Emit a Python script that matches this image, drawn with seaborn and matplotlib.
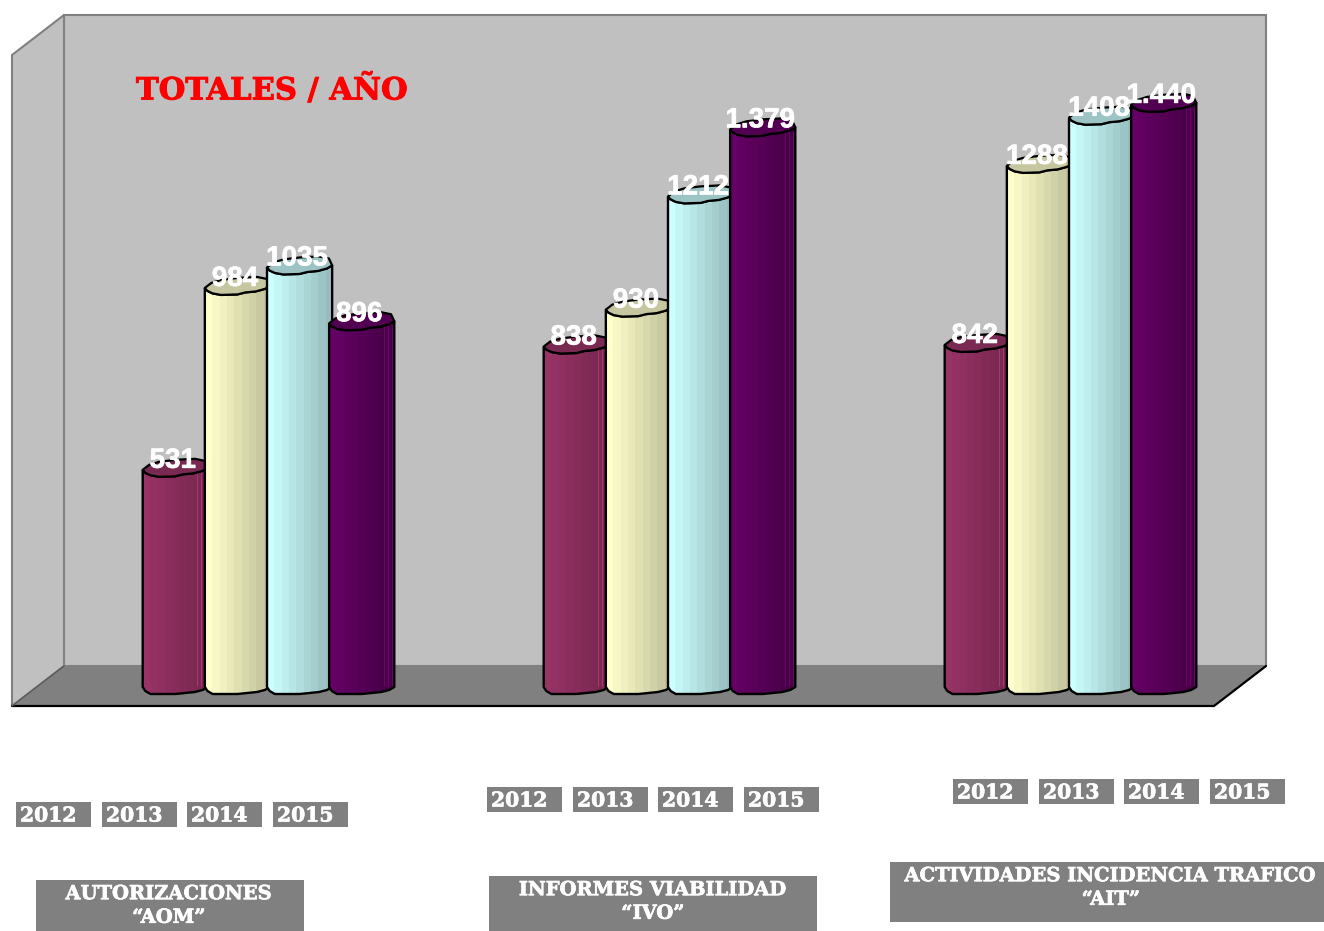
import numpy as np
import pandas as pd
import matplotlib
matplotlib.use("Agg")
import matplotlib.pyplot as plt
import matplotlib.patheffects as pe
from matplotlib.patches import Polygon, PathPatch, Rectangle
from matplotlib.path import Path
import seaborn as sns

# ---- data ----
groups = ["AOM", "IVO", "AIT"]
years = ["2012", "2013", "2014", "2015"]
values_2012 = [531, 838, 842]
values_2013 = [984, 930, 1288]
values_2014 = [1035, 1212, 1408]
values_2015 = [896, 1379, 1440]
labels_2012 = ["531", "838", "842"]
labels_2013 = ["984", "930", "1288"]
labels_2014 = ["1035", "1212", "1408"]
labels_2015 = ["896", "1.379", "1.440"]
group_titles = ["AUTORIZACIONES\n\u201cAOM\u201d",
                "INFORMES VIABILIDAD\n\u201cIVO\u201d",
                "ACTIVIDADES INCIDENCIA TRAFICO\n\u201cAIT\u201d"]
chart_title = "TOTALES / A\u00d1O"

# ---- styles ----
palette = {"2012": "#993366", "2013": "#FFFFCC", "2014": "#CCFFFF", "2015": "#660066"}
end_factor = {"2012": 0.78, "2013": 0.76, "2014": 0.74, "2015": 0.68}
top_colour = {"2012": "#7A2A52", "2013": "#C6C6A0", "2014": "#9CC4C4", "2015": "#520052"}
has_stripes = {"2012": True, "2013": False, "2014": False, "2015": True}
SERIF = "DejaVu Serif"
GREY = "#808080"
heavy_white = [pe.withStroke(linewidth=0.5, foreground="white")]
heavy_red = [pe.withStroke(linewidth=0.7, foreground="#FF0000")]

W, H = 1324, 931
sns.set_theme(style="white")
fig = plt.figure(figsize=(W / 100, H / 100), dpi=100, facecolor="white")

# background layer in pixel units: the box walls and the label plates
bg = fig.add_axes([0, 0, 1, 1], zorder=0)
bg.set_xlim(0, W)
bg.set_ylim(H, 0)
bg.axis("off")
bg.add_patch(Polygon([(64, 15), (1266, 15), (1266, 666), (64, 666)], fc="#C0C0C0", ec=GREY, lw=1.5))
bg.add_patch(Polygon([(12, 55), (64, 15), (64, 666), (12, 706)], fc="#C0C0C0", ec=GREY, lw=1.5))
bg.add_patch(Polygon([(12, 706), (64, 666), (1266, 666), (1214, 706)], fc=GREY, ec=GREY, lw=1))
bg.plot([12, 1214, 1266], [706, 706, 666], color="black", lw=1.6, solid_joinstyle="miter")
bg.plot([12, 64], [706, 666], color="#5a5a5a", lw=1)

bg.text(136, 90, chart_title, color="#FF0000", family=SERIF, weight="bold",
        fontsize=22, ha="left", va="center", path_effects=heavy_red)

year_rows = [(802, [16, 102, 187, 273]), (787, [487, 573, 658, 744]), (779, [953, 1039, 1124, 1210])]
for top, lefts in year_rows:
    for left, yr in zip(lefts, years):
        bg.add_patch(Rectangle((left, top), 75, 25, fc=GREY, ec="none"))
        bg.text(left + 4, top + 13.5, yr, color="white", family=SERIF, weight="bold",
                fontsize=14.6, ha="left", va="center", path_effects=heavy_white)

plates = [(36, 880, 268, 51, 169, 906), (489, 876, 328, 55, 653, 902), (890, 862, 434, 60, 1111, 888)]
for (x, y, w, h, cx, cy), t in zip(plates, group_titles):
    bg.add_patch(Rectangle((x, y), w, h, fc=GREY, ec="none"))
    bg.text(cx, cy, t, color="white", family=SERIF, weight="bold", fontsize=14,
            ha="center", va="center", linespacing=1.4, path_effects=heavy_white)

# ---- bars through seaborn ----
df = pd.DataFrame({
    "group": groups * 4,
    "year": np.repeat(years, 3),
    "value": values_2012 + values_2013 + values_2014 + values_2015,
    "label": labels_2012 + labels_2013 + labels_2014 + labels_2015,
})
ax = fig.add_axes([0, 0, 1, 1], zorder=1)
ax.patch.set_alpha(0)
sns.barplot(data=df, x="group", y="value", hue="year", order=groups, hue_order=years,
            palette=palette, width=0.62, gap=0, dodge=True, legend=False, ax=ax,
            saturation=1, errorbar=None)

PX_PER_GROUP, X0_PX, Y0_PX, PX_PER_UNIT = 401.0, 267.0, 683.0, 0.4015
xlim = ((0 - X0_PX) / PX_PER_GROUP, (W - X0_PX) / PX_PER_GROUP)
ylim = ((Y0_PX - H) / PX_PER_UNIT, Y0_PX / PX_PER_UNIT)
dx = 1 / PX_PER_GROUP     # data units per pixel
dy = 1 / PX_PER_UNIT

# rim shapes: (fraction of width, pixels below the bar end)
front_rim = [(0, 0), (.04, 3), (.12, 5.5), (.25, 7), (.5, 6.5), (.62, 4.5), (.78, 3.5), (.92, 1), (1, -2)]
back_rim = [(1, -2), (.95, -9), (.8, -11), (.5, -10), (.25, -8), (.1, -5), (0, 0)]
bottom_rim = [(1, 4), (.92, 7), (.8, 9), (.65, 10), (.5, 11), (.3, 11), (.12, 11), (.04, 8), (0, 4)]

zo = 3
for year, cont in zip(years, ax.containers):
    base = np.array(matplotlib.colors.to_rgb(palette[year]))
    factors = np.linspace(1, end_factor[year], 9)
    bands = np.array([[base * f for f in factors]])
    sub = df[df.year == year].set_index("group").reindex(groups)
    for bar, lab in zip(cont.patches, sub["label"]):
        x0, v = bar.get_x(), bar.get_height()
        cx = bar.get_x() + bar.get_width() / 2
        w = bar.get_width() + 3 * dx
        pts = [(x0 + u * w, v - o * dy) for u, o in front_rim]
        pts += [(x0 + u * w, 0 - o * dy) for u, o in bottom_rim]
        body = PathPatch(Path(pts + [pts[0]], closed=False), fc="none", ec="black", lw=1.7,
                         zorder=zo + .2, joinstyle="round")
        ax.add_patch(body)
        im = ax.imshow(bands, extent=(x0, x0 + w, -12 * dy, v + 12 * dy), aspect="auto",
                       interpolation="nearest", zorder=zo + .1)
        im.set_clip_path(body)
        if has_stripes[year]:
            for u in (.84, .9, .96):
                ax.vlines(x0 + u * w, -3 * dy, v - 2 * dy, color=tuple(np.minimum(base * 1.25, 1)),
                          lw=.7, alpha=.7, zorder=zo + .15)
        top = [(x0 + u * w, v - o * dy) for u, o in front_rim] + \
              [(x0 + u * w, v - o * dy) for u, o in back_rim[1:]]
        ax.add_patch(Polygon(top, closed=True, fc=top_colour[year], ec="black", lw=1.6,
                             zorder=zo + .3, joinstyle="round"))
        ax.text(cx - 1 * dx, v + 9 * dy, lab, color="white", family="Liberation Sans", weight="bold",
                fontsize=20, ha="center", va="center", zorder=60,
                path_effects=[pe.withStroke(linewidth=0.5, foreground="white")])
        zo += 1
    for bar in cont.patches:
        bar.set_zorder(2)

ax.set_xlim(*xlim)
ax.set_ylim(*ylim)
ax.axis("off")

fig.savefig("out.png", dpi=100, facecolor="white")
